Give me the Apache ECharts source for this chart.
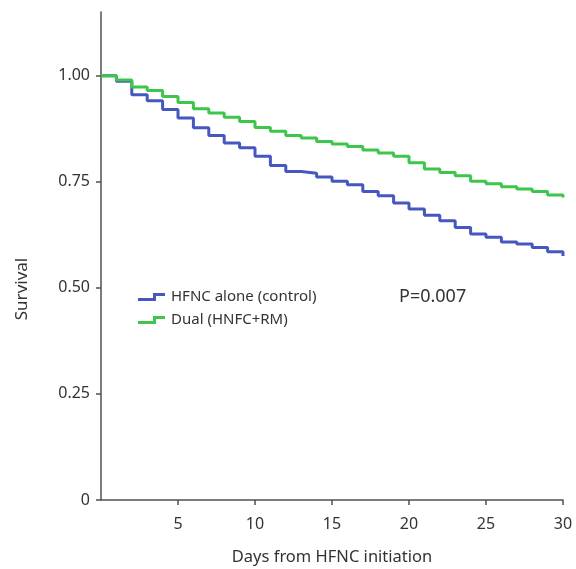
<!DOCTYPE html>
<html>
<head>
<meta charset="utf-8">
<script src="https://cdn.jsdelivr.net/npm/echarts@6/dist/echarts.min.js"></script>
<style>
html,body{margin:0;padding:0;background:#fff;}
#chart{width:576px;height:569px;}
</style>
</head>
<body>
<div id="chart"></div>
<script>
var days = [0,1,2,3,4,5,6,7,8,9,10,11,12,13,14,15,16,17,18,19,20,21,22,23,24,25,26,27,28,29,30];
var controlSurvival = [1.00,0.987,0.955,0.941,0.920,0.900,0.877,0.859,0.841,0.830,0.810,0.788,0.774,0.770,0.761,0.751,0.743,0.727,0.717,0.700,0.686,0.671,0.658,0.642,0.627,0.619,0.608,0.603,0.595,0.585,0.575];
var dualSurvival = [1.00,0.99,0.973,0.965,0.951,0.937,0.922,0.912,0.902,0.892,0.878,0.869,0.859,0.853,0.845,0.839,0.833,0.825,0.818,0.810,0.795,0.780,0.772,0.764,0.751,0.745,0.738,0.733,0.727,0.719,0.713];
var xTicks = [5,10,15,20,25,30];
var yTicks = [0,0.25,0.5,0.75,1.0];
var seriesNames = ['HFNC alone (control)','Dual (HNFC+RM)'];
var pText = 'P=0.007';

var FONT = '"Noto Sans", "Open Sans", sans-serif';
var TXT = '#333';
var AX = '#505050';
var stepIcon = 'path://M0,5 L15,5 L15,0 L27,0 L27,3 L18,3 L18,8 L0,8 Z';

function pairs(xs, ys){ return xs.map(function(x,i){ return [x, ys[i]]; }); }

var chart = echarts.init(document.getElementById('chart'), null, {renderer:'canvas'});
chart.setOption({
  animation: false,
  backgroundColor: '#fff',
  grid: {left: 101, right: 13, top: 12, bottom: 69, containLabel: false, outerBoundsMode: 'none'},
  legend: {
    orient: 'vertical', left: 138, top: 288, padding: 0,
    itemWidth: 27, itemHeight: 8, itemGap: 5,
    textStyle: {fontFamily: FONT, fontSize: 15, lineHeight: 18, color: TXT, padding:[0,0,0,1]},
    data: [
      {name: seriesNames[0], icon: stepIcon},
      {name: seriesNames[1], icon: stepIcon}
    ]
  },
  xAxis: {
    type: 'value', min: 0, max: 30,
    name: 'Days from HFNC initiation', nameLocation: 'middle', nameGap: 49,
    nameTextStyle: {fontFamily: FONT, fontSize: 16.5, color: TXT},
    axisLine: {show: true, lineStyle: {color: AX, width: 1.5}},
    axisTick: {show: true, length: 5, customValues: xTicks, lineStyle: {color: AX, width: 1.5}},
    axisLabel: {customValues: xTicks, margin: 16, fontFamily: FONT, fontSize: 16, color: TXT},
    splitLine: {show: false}
  },
  yAxis: {
    type: 'value', min: 0, max: 1.15,
    axisLine: {show: true, lineStyle: {color: AX, width: 1.5}},
    axisTick: {show: true, length: 5, customValues: yTicks, lineStyle: {color: AX, width: 1.5}},
    axisLabel: {customValues: yTicks, margin: 11, fontFamily: FONT, fontSize: 16, color: TXT,
      formatter: function(v){ return v === 0 ? '0' : v.toFixed(2); }},
    splitLine: {show: false}
  },
  graphic: [
    {type: 'text', left: 399, top: 288, style: {text: pText, fontFamily: FONT, fontSize: 18, fill: TXT}},
    {type: 'text', x: 14, y: 289, rotation: Math.PI/2,
      style: {text: 'Survival', fontFamily: FONT, fontSize: 17, fill: TXT, align: 'center', verticalAlign: 'top'}}
  ],
  series: [
    {name: seriesNames[0], type: 'line', step: 'end', showSymbol: false, symbol: 'none',
      data: pairs(days, controlSurvival), color: '#4657bf',
      lineStyle: {color: '#4657bf', width: 3}, z: 2},
    {name: seriesNames[1], type: 'line', step: 'end', showSymbol: false, symbol: 'none',
      data: pairs(days, dualSurvival), color: '#3dc64b',
      lineStyle: {color: '#3dc64b', width: 3}, z: 3}
  ]
});
</script>
</body>
</html>
